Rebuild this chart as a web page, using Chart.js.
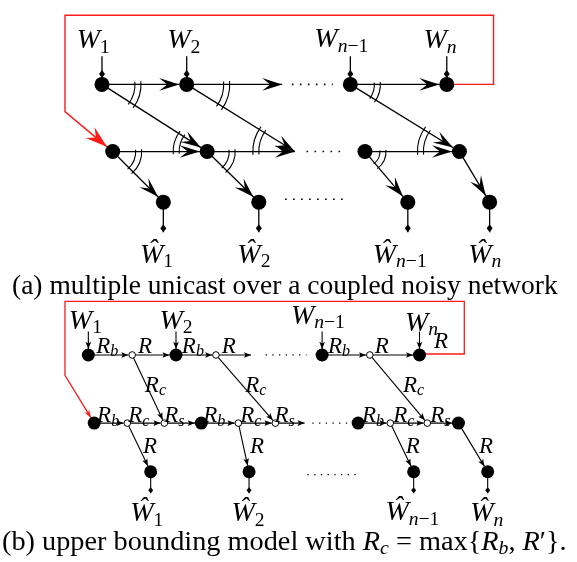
<!DOCTYPE html>
<html><head><meta charset="utf-8">
<script src="https://cdn.jsdelivr.net/npm/chart.js@4"></script>
<style>html,body{margin:0;padding:0;background:#fff}#wrap{width:577px;height:562px}</style>
</head><body><div id="wrap"><canvas id="c" width="577" height="562"></canvas></div>
<script>
// ---------- data: (a) coupled noisy network ----------
const aTop  = [[97,79],[184,79],[352,79],[451,79]];
const aMid  = [[108,148],[205,148],[367,148],[464,148]];
const aOut  = [[160,200],[258,200],[411,200],[495,200]];
const aEnds = [[282,79],[295,148]];
const aEdges = [['aT0','aT1'],['aT1','aE0'],['aT2','aT3'],
  ['aT0','aM1'],['aT1','aE1'],['aT2','aM3'],
  ['aM0','aM1'],['aM1','aE1'],['aM2','aM3'],
  ['aM0','aO0'],['aM1','aO1'],['aM2','aO2'],['aM3','aO3']];
const aArcs = [['aT0','aT1','aM1',33],['aT1','aE0','aE1',37],['aT2','aT3','aM3',24],
  ['aM0','aM1','aO0',23],['aM1','aE1','aO1',22],['aM2','aM3','aO2',15],
  ['aM1','aM0','aT0',28],['aE1','aM1','aT1',36],['aM3','aM2','aT2',36]];
const aDots = [[[292,79],[334,79]],[[307,148],[347,148]],[[285,197],[345,197]]];
const aInputs = ['aT0','aT1','aT2','aT3'];
const aOutputs = ['aO0','aO1','aO2','aO3'];
const aRed = [[451,79],[499,79],[499,8],[59,8],[59,107],[108,148]];
const aLabels = [['W_1',71,42],['W_2',164,42],['W_{n-1}',315,41],['W_n',427,42],
  ['Ŵ_1',136,262],['Ŵ_2',236,262],['Ŵ_{n-1}',375,262],['Ŵ_n',473,262]];
const captionA = [['(a) multiple unicast over a coupled noisy network','rm']];

// ---------- data: (b) upper bounding model ----------
const bTop  = [[83,357],[173,357],[323,357],[423,357]];
const bTopC = [[128,357],[214,357],[372,357]];
const bBot  = [[89,427],[199,427],[360,427],[463,427]];
const bBotC = [[123,427],[161,427],[237,427],[275,427],[393,427],[431,427]];
const bOut  = [[147,477],[248,477],[417,477],[493,477]];
const bEnds = [[250,357],[305,427]];
const bEdges = [['bT0','bTC0'],['bTC0','bT1'],['bT1','bTC1'],['bTC1','bE0'],['bT2','bTC2'],['bTC2','bT3'],
  ['bTC0','bBC1'],['bTC1','bBC3'],['bTC2','bBC5'],
  ['bB0','bBC0'],['bBC0','bBC1'],['bBC1','bB1'],['bB1','bBC2'],['bBC2','bBC3'],['bBC3','bE1'],
  ['bB2','bBC4'],['bBC4','bBC5'],['bBC5','bB3'],
  ['bBC0','bO0'],['bBC2','bO1'],['bBC4','bO2'],['bB3','bO3']];
const bDots = [[[265,357],[307,357]],[[313,427],[349,427]],[[308,480],[362,480]]];
const bInputs = ['bT0','bT1','bT2','bT3'];
const bOutputs = ['bO0','bO1','bO2','bO3'];
const bRed = [[423,356],[469,356],[469,302],[59,302],[59,378],[89,427]];
const bLabelsW = [['W_1',63,330],['W_2',156,330],['W_{n-1}',291,325],['W_n',408,332],
  ['Ŵ_1',126,528],['Ŵ_2',230,528],['Ŵ_{n-1}',388,527],['Ŵ_n',475,528]];
const bLabelsR = [['R',438,350],['R_b',91,355],['R',134,355],['R_b',179,355],['R',220,355],['R_b',329,355],['R',377,355],
  ['R_c',141,395],['R_c',244,395],['R_c',406,395],
  ['R_b',92,426],['R_c',124,426],['R_s',161,426],['R_b',201,426],['R_c',239,426],['R_s',274,426],
  ['R_b',364,426],['R_c',396,426],['R_s',434,426],
  ['R',139,458],['R',249,458],['R',409,458],['R',484,458]];
const captionB = [['(b) upper bounding model with ','rm'],['R','it'],['c','sub'],[' = max{','rm'],
  ['R','it'],['b','sub'],[', ','rm'],['R','it'],['′','sup'],['}.','rm']];

// ---------- styles ----------
const RA = 7.5, RB = 6.5, RO = 3.8;
const RED = '#ff1a1a';
const SERIF = '"Liberation Serif","DejaVu Serif",serif';

const nodes = {};
function reg(prefix, arr, r){ arr.forEach((p,i)=>{ nodes[prefix+i] = {x:p[0], y:p[1], r}; }); }
reg('aT',aTop,RA); reg('aM',aMid,RA); reg('aO',aOut,RA); reg('aE',aEnds,0);
reg('bT',bTop,RB); reg('bTC',bTopC,RO); reg('bB',bBot,RB); reg('bBC',bBotC,RO); reg('bO',bOut,RB); reg('bE',bEnds,0);

function tipOf(a,b){
  const dx=b.x-a.x, dy=b.y-a.y, L=Math.hypot(dx,dy);
  return {x:b.x-dx/L*b.r, y:b.y-dy/L*b.r, ux:dx/L, uy:dy/L};
}
function lineDS(pts, color, width, dash){
  return {data: pts.map(p=>({x:p[0],y:p[1]})), showLine:true, borderColor:color, borderWidth:width,
    borderDash: dash||[], borderCapStyle:'butt', pointRadius:0, fill:false, tension:0, order:10};
}
const datasets = [];
function addEdges(list, width){
  list.forEach(([s,t])=>{
    const a=nodes[s], b=nodes[t], tp=tipOf(a,b);
    datasets.push(lineDS([[a.x,a.y],[tp.x,tp.y]], '#000', width));
  });
}
addEdges(aEdges, 1.3); addEdges(bEdges, 1.1);
function addStubs(list, y, width){
  list.forEach(k=>{ const n=nodes[k]; datasets.push(lineDS([[n.x,y],[n.x,n.y]], '#000', width)); });
}
addStubs(aInputs, 50, 1.3); addStubs(aOutputs, 231, 1.3);
addStubs(bInputs, 333, 1.1); addStubs(bOutputs, 499, 1.1);
aDots.forEach(d=>datasets.push(lineDS(d,'#000',1.6,[1.6,6.4])));
bDots.forEach(d=>datasets.push(lineDS(d,'#000',1.3,[1.3,5.4])));
function redPath(pts, r){
  const p = pts.slice(0,-1);
  const last = pts[pts.length-1], prev = pts[pts.length-2];
  const tp = tipOf({x:prev[0],y:prev[1]},{x:last[0],y:last[1],r});
  p.push([tp.x,tp.y]);
  return p;
}
datasets.push(lineDS(redPath(aRed,RA), RED, 1.4));
datasets.push(lineDS(redPath(bRed,RB), RED, 1.3));
function nodeDS(arrs, r, fill, bw){
  const data=[]; arrs.forEach(a=>a.forEach(p=>data.push({x:p[0],y:p[1]})));
  return {data, showLine:false, pointRadius:r, pointHoverRadius:r, pointBackgroundColor:fill,
    pointBorderColor:'#000', pointBorderWidth:bw, order:0};
}
datasets.push(nodeDS([aTop,aMid,aOut], RA, '#000', 0));
datasets.push(nodeDS([bTop,bBot,bOut], RB, '#000', 0));
datasets.push(nodeDS([bTopC,bBotC], RO-0.5, '#fff', 1));

// ---------- drawing helpers ----------
function stealth(ctx, x, y, ux, uy, L, W, inset, color){
  const nx=-uy, ny=ux, bx=x-L*ux, by=y-L*uy;
  ctx.beginPath(); ctx.moveTo(x,y);
  ctx.lineTo(bx+W*nx, by+W*ny);
  ctx.lineTo(x-inset*L*ux, y-inset*L*uy);
  ctx.lineTo(bx-W*nx, by-W*ny);
  ctx.closePath(); ctx.fillStyle=color; ctx.fill();
}
function diamond(ctx, x, y, ux, uy, L, W){
  const nx=-uy, ny=ux, mx=x-0.5*L*ux, my=y-0.5*L*uy;
  ctx.beginPath(); ctx.moveTo(x,y); ctx.lineTo(mx+W*nx,my+W*ny);
  ctx.lineTo(x-L*ux,y-L*uy); ctx.lineTo(mx-W*nx,my-W*ny); ctx.closePath();
  ctx.fillStyle='#000'; ctx.fill();
}
function fontFor(style, size){
  if(style==='it') return 'italic '+size+'px '+SERIF;
  return size+'px '+SERIF;
}
function labelSegs(str){
  const i = str.indexOf('_');
  const base = i<0 ? str : str.slice(0,i);
  const sub = i<0 ? '' : str.slice(i+1).replace(/[{}]/g,'');
  const segs = [[base,'it']];
  for(const ch of sub){
    if(/[a-z]/i.test(ch)) segs.push([ch,'subit']);
    else segs.push([ch==='-'?'−':ch,'subrm']);
  }
  return segs;
}
function drawSegs(ctx, segs, x, y, size, measureOnly){
  let cx = x;
  segs.forEach(([t,st])=>{
    let s=size, dy=0, f='rm';
    if(st==='it'){ f='it'; }
    else if(st==='sub'||st==='subit'){ f='it'; s=size*0.7; dy=size*0.15; }
    else if(st==='subrm'){ f='rm'; s=size*0.7; dy=size*0.15; }
    else if(st==='sup'){ f='rm'; s=size; dy=0; }
    ctx.font = fontFor(f,s);
    if(!measureOnly) ctx.fillText(t, cx, y+dy);
    cx += ctx.measureText(t).width;
  });
  return cx - x;
}
function drawCaption(ctx, segs, x0, x1, y){
  const w = drawSegs(ctx, segs, 0, 0, 24, true);
  const size = 24*(x1-x0)/w;
  drawSegs(ctx, segs, x0, y, size, false);
}

const diagram = {
  id:'diagram',
  afterDatasetsDraw(chart){
    const ctx=chart.ctx, X=chart.scales.x, Y=chart.scales.y;
    const P = n=>({x:X.getPixelForValue(n.x), y:Y.getPixelForValue(n.y), r:n.r});
    ctx.save();
    // arrowheads
    aEdges.forEach(([s,t])=>{ const tp=tipOf(P(nodes[s]),P(nodes[t])); stealth(ctx,tp.x,tp.y,tp.ux,tp.uy,20,6.3,0.6,'#000'); });
    bEdges.forEach(([s,t])=>{ const tp=tipOf(P(nodes[s]),P(nodes[t])); stealth(ctx,tp.x,tp.y,tp.ux,tp.uy,7,2.8,0.8,'#000'); });
    // input/output stub tips
    aInputs.forEach(k=>{ const n=P(nodes[k]); diamond(ctx,n.x,n.y-n.r+1,0,1,8,3); });
    aOutputs.forEach(k=>{ const n=P(nodes[k]); diamond(ctx,n.x,Y.getPixelForValue(231),0,1,8,3); });
    bInputs.forEach(k=>{ const n=P(nodes[k]); stealth(ctx,n.x,n.y-n.r+0.5,0,1,7,2.8,0.8,'#000'); });
    bOutputs.forEach(k=>{ const n=P(nodes[k]); diamond(ctx,n.x,Y.getPixelForValue(499),0,1,6,2.5); });
    // red arrowheads
    [[aRed,RA,22,7],[bRed,RB,8,3]].forEach(([pts,r,L,W])=>{
      const a=pts[pts.length-2], b=pts[pts.length-1];
      const tp=tipOf({x:X.getPixelForValue(a[0]),y:Y.getPixelForValue(a[1])},{x:X.getPixelForValue(b[0]),y:Y.getPixelForValue(b[1]),r});
      stealth(ctx,tp.x,tp.y,tp.ux,tp.uy,L,W,0.65,RED);
    });
    // angle arcs
    ctx.strokeStyle='#000'; ctx.lineWidth=1.1;
    aArcs.forEach(([c,p1,p2,r])=>{
      const C=P(nodes[c]), A=P(nodes[p1]), B=P(nodes[p2]);
      let a1=Math.atan2(A.y-C.y,A.x-C.x), a2=Math.atan2(B.y-C.y,B.x-C.x);
      let d=a2-a1; while(d>Math.PI) d-=2*Math.PI; while(d<=-Math.PI) d+=2*Math.PI;
      const e = 0.08*Math.sign(d);
      [r, r+6].forEach(rr=>{ ctx.beginPath(); ctx.arc(C.x,C.y,rr,a1-e,a1+d+e,d<0); ctx.stroke(); });
    });
    // labels
    ctx.fillStyle='#000'; ctx.textBaseline='alphabetic';
    aLabels.forEach(([t,x,y])=>drawSegs(ctx,labelSegs(t),X.getPixelForValue(x),Y.getPixelForValue(y),28));
    bLabelsW.forEach(([t,x,y])=>drawSegs(ctx,labelSegs(t),X.getPixelForValue(x),Y.getPixelForValue(y),28));
    bLabelsR.forEach(([t,x,y])=>drawSegs(ctx,labelSegs(t),X.getPixelForValue(x),Y.getPixelForValue(y),23));
    drawCaption(ctx, captionA, 12, 558, 294);
    drawCaption(ctx, captionB, 2, 567, 550);
    ctx.restore();
  }
};

new Chart(document.getElementById('c'), {
  type:'scatter',
  data:{datasets},
  options:{
    responsive:false, animation:false, events:[],
    layout:{padding:0},
    plugins:{legend:{display:false}, tooltip:{enabled:false}},
    scales:{
      x:{type:'linear', min:0, max:577, display:false},
      y:{type:'linear', min:0, max:562, reverse:true, display:false}
    }
  },
  plugins:[diagram]
});
</script></body></html>
